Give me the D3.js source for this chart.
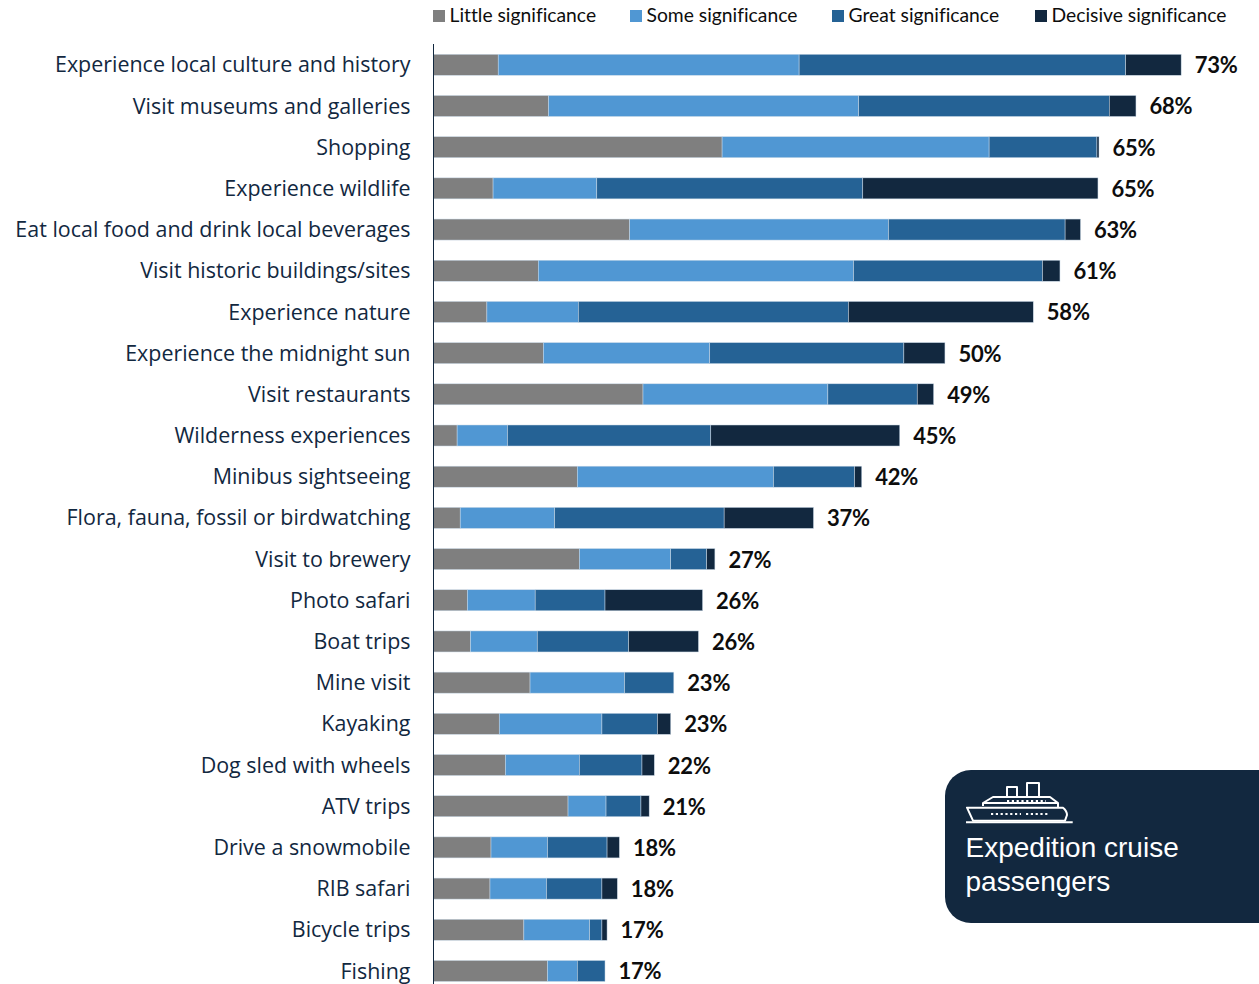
<!DOCTYPE html>
<html>
<head>
<meta charset="utf-8">
<script src="https://cdn.jsdelivr.net/npm/d3@7/dist/d3.min.js"></script>
<style>
  html, body { margin: 0; padding: 0; background: #fff; overflow: hidden; }
  svg { display: block; }
  text { font-variant-ligatures: none; }
</style>
</head>
<body>
<svg id="chart" width="1259" height="984"></svg>
<script>
const categories = [
  "Experience local culture and history", "Visit museums and galleries", "Shopping",
  "Experience wildlife", "Eat local food and drink local beverages", "Visit historic buildings/sites",
  "Experience nature", "Experience the midnight sun", "Visit restaurants", "Wilderness experiences",
  "Minibus sightseeing", "Flora, fauna, fossil or birdwatching", "Visit to brewery", "Photo safari",
  "Boat trips", "Mine visit", "Kayaking", "Dog sled with wheels", "ATV trips", "Drive a snowmobile",
  "RIB safari", "Bicycle trips", "Fishing"
];
const seriesNames = ["Little significance", "Some significance", "Great significance", "Decisive significance"];
const little   = [6.3, 11.2, 28.1, 5.8, 19.1, 10.2, 5.2, 10.7, 20.4, 2.3, 14.0, 2.6, 14.2, 3.3, 3.6, 9.4, 6.4, 7.0, 13.1, 5.6, 5.5, 8.8, 11.1];
const some     = [29.3, 30.2, 26.0, 10.1, 25.2, 30.7, 8.9, 16.2, 18.0, 4.9, 19.1, 9.2, 8.9, 6.6, 6.5, 9.2, 10.0, 7.2, 3.7, 5.5, 5.5, 6.4, 2.9];
const great    = [31.8, 24.4, 10.5, 25.9, 17.2, 18.4, 26.3, 18.9, 8.7, 19.8, 7.9, 16.5, 3.5, 6.8, 8.9, 4.8, 5.4, 6.1, 3.4, 5.8, 5.4, 1.2, 2.7];
const decisive = [5.4, 2.6, 0.2, 22.9, 1.5, 1.7, 18.0, 4.0, 1.6, 18.4, 0.7, 8.7, 0.8, 9.5, 6.8, 0.0, 1.3, 1.2, 0.8, 1.2, 1.5, 0.5, 0.0];
const totals   = [73, 68, 65, 65, 63, 61, 58, 50, 49, 45, 42, 37, 27, 26, 26, 23, 23, 22, 21, 18, 18, 17, 17];
const colors   = ["#7f7f7f", "#5097d3", "#256295", "#12283f"];

const svg = d3.select("#chart");
const navy = "#12283f";

const rows = categories.map((name, i) => ({
  name,
  total: totals[i],
  "Little significance": little[i],
  "Some significance": some[i],
  "Great significance": great[i],
  "Decisive significance": decisive[i]
}));

const x = d3.scaleLinear().domain([0, 100]).range([433.5, 1460.5]);
const y = d3.scaleBand().domain(categories).range([44.2, 44.2 + 41.19 * categories.length]).paddingInner(0.49).paddingOuter(0.245);

// Stacked bars
const stacked = d3.stack().keys(seriesNames)(rows);
svg.append("g").selectAll("g").data(stacked).join("g")
  .attr("fill", (d, i) => colors[i])
  .selectAll("rect").data(d => d).join("rect")
  .attr("x", d => x(d[0]))
  .attr("y", d => y(d.data.name))
  .attr("width", d => x(d[1]) - x(d[0]))
  .attr("height", y.bandwidth())
  .attr("stroke", "#c9d9e8")
  .attr("stroke-width", 0.5);

// Category axis with labels only
const axis = svg.append("g")
  .attr("transform", "translate(433.5,0)")
  .call(d3.axisLeft(y).tickSize(0).tickPadding(23));
axis.select(".domain").attr("d", "M0,44V984").attr("stroke", navy).attr("stroke-width", 1);
axis.selectAll("text")
  .attr("font-family", "'Open Sans', sans-serif")
  .attr("font-size", 21.45)
  .attr("y", 0.7)
  .attr("fill", navy);

// Totals at the end of each bar
svg.append("g").selectAll("text").data(stacked[3]).join("text")
  .attr("x", d => x(d[1]) + 13.5)
  .attr("y", d => y(d.data.name) + y.bandwidth() / 2 + 8.5)
  .attr("font-family", "Lato, sans-serif")
  .attr("font-weight", 700)
  .attr("font-size", 22)
  .attr("letter-spacing", -0.2)
  .attr("fill", "#0d0d0d")
  .text(d => d.data.total + "%");

// Legend
const legendX = [433, 630, 832, 1035];
const legend = svg.append("g").selectAll("g").data(seriesNames).join("g")
  .attr("transform", (d, i) => `translate(${legendX[i]},0)`);
legend.append("rect").attr("y", 10).attr("width", 12).attr("height", 12).attr("fill", (d, i) => colors[i]);
legend.append("text")
  .attr("x", 16.5).attr("y", 22)
  .attr("font-family", "Lato, sans-serif")
  .attr("font-size", 19.3)
  .attr("fill", "#0d0d0d")
  .text(d => d);

// Passenger segment badge with ship icon
const badge = svg.append("g");
badge.append("rect").attr("x", 945).attr("y", 770).attr("width", 360).attr("height", 153).attr("rx", 26).attr("fill", navy);
const ship = badge.append("g").attr("fill", "none").attr("stroke", "#fff").attr("stroke-width", 2).attr("stroke-linejoin", "round");
ship.append("path").attr("d", "M966 822.3H1072.7");
ship.append("path").attr("d", "M967 807.7H1063Q1067 811 1067 815L1065 820.7H973Z");
ship.append("path").attr("d", "M983 806L983 803H1058V807.7M983 803L993 797H1050L1058 803");
ship.append("path").attr("d", "M1007 796V787H1017V796M1027 796V783H1039V796");
const dots = badge.append("g").attr("stroke", "#fff").attr("stroke-width", 2).attr("stroke-dasharray", "2.2 2.6");
dots.append("path").attr("d", "M991 814H1021M1026 814H1050");
dots.append("path").attr("d", "M1007 801H1046");
const badgeLines = ["Expedition cruise", "passengers"];
badge.selectAll("text").data(badgeLines).join("text")
  .attr("x", 965.5).attr("y", (d, i) => 857 + i * 33.5)
  .attr("font-family", "'Liberation Sans', Arial, sans-serif")
  .attr("font-size", 28)
  .attr("fill", "#fff")
  .text(d => d);
</script>
</body>
</html>
